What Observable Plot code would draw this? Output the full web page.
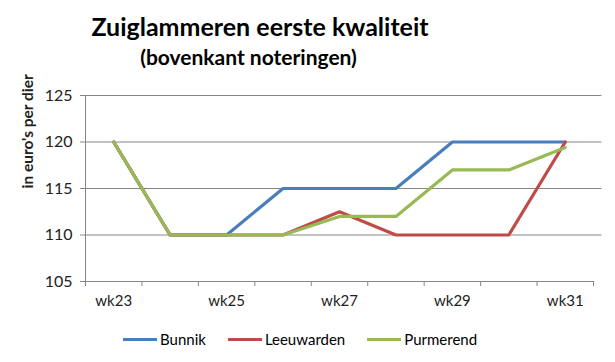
<!DOCTYPE html>
<html><head><meta charset="utf-8">
<script src="https://cdn.jsdelivr.net/npm/d3@7"></script>
<script src="https://cdn.jsdelivr.net/npm/@observablehq/plot@0.6"></script>
<style>
body{margin:0;background:#fff;font-family:Lato,"Open Sans",sans-serif;width:615px;}
#t{font-size:25px;font-weight:bold;text-align:center;width:520px;height:42px;line-height:42px;padding-top:5px;}
#s{font-size:21px;font-weight:bold;text-align:center;width:497px;height:23px;line-height:20px;}
#legend{display:flex;justify-content:flex-start;padding-left:123px;font-size:15px;margin-top:15px;}
.li{display:flex;align-items:center;margin-right:22px;}
.sw{width:34px;height:3px;margin-right:3px;}
</style></head><body>
<div id="t">Zuiglammeren eerste kwaliteit</div>
<div id="s">(bovenkant noteringen)</div>
<div id="chart"></div>
<div id="legend"></div>
<script>
const weeks = ["wk23","wk24","wk25","wk26","wk27","wk28","wk29","wk30","wk31"];
const bunnik = [120,110,110,115,115,115,120,120,120];
const leeuwarden = [120,110,110,110,112.5,110,110,110,120];
const purmerend = [120,110,110,110,112,112,117,117,119.4];
const seriesNames = ["Bunnik","Leeuwarden","Purmerend"];
const colors = ["#4a7ebb","#be4b48","#98b954"];
const yTicks = [105,110,115,120,125];
const labelWeeks = ["wk23","wk25","wk27","wk29","wk31"];

const allSeries = [bunnik, leeuwarden, purmerend];
const data = [];
seriesNames.forEach((s,si)=>allSeries[si].forEach((v,i)=>data.push({series:s,x:i,y:v})));
const grey = "#868686";
const bounds = d3.range(weeks.length+1).map(i=>i-0.5);

const plot = Plot.plot({
  width:615, height:245,
  marginLeft:85, marginRight:22, marginTop:25, marginBottom:34,
  style:{fontFamily:"Lato, 'Open Sans', sans-serif", fontSize:"15px", color:"#222"},
  x:{domain:[-0.5, weeks.length-0.5], axis:null},
  y:{domain:[105,125], axis:null},
  color:{domain:seriesNames, range:colors},
  marks:[
    Plot.ruleY(yTicks.slice(1), {stroke:grey, strokeWidth:1, x1:-0.5, x2:weeks.length-0.35}),
    Plot.ruleY([105], {stroke:grey, x1:-0.5, x2:weeks.length-0.5}),
    Plot.ruleX([-0.5], {stroke:grey, y1:105, y2:125}),
    Plot.axisY({ticks:yTicks, tickSize:5, tickPadding:8, stroke:grey, fontSize:16, label:null}),
    Plot.axisX({ticks:bounds, tickSize:5, tickFormat:()=>"", stroke:grey, label:null}),
    Plot.axisX({ticks:labelWeeks.map(w=>weeks.indexOf(w)), tickSize:0, tickPadding:14, tickFormat:i=>weeks[i], fontSize:15, label:null}),
    Plot.text(["in euro's per dier"], {frameAnchor:"left", dx:-57, rotate:-90, fontWeight:"bold", fontSize:15.5}),
    Plot.line(data, {x:"x", y:"y", stroke:"series", strokeWidth:3.2, z:"series"})
  ]
});
document.getElementById("chart").appendChild(plot);
const lg = document.getElementById("legend");
seriesNames.forEach((s,i)=>{
  const d=document.createElement("div");d.className="li";
  d.innerHTML=`<span class="sw" style="background:${colors[i]}"></span><span>${s}</span>`;
  lg.appendChild(d);
});
</script>
</body></html>
